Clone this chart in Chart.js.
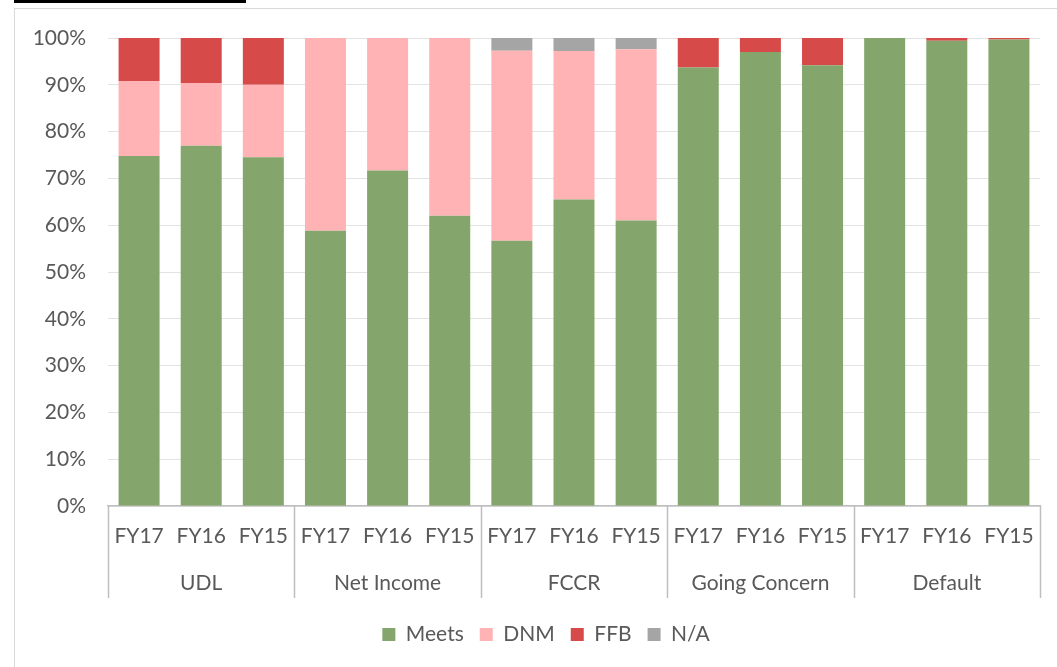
<!DOCTYPE html>
<html>
<head>
<meta charset="utf-8">
<script src="https://cdn.jsdelivr.net/npm/chart.js@4.4.1/dist/chart.umd.min.js"></script>
<style>
  html, body { margin: 0; padding: 0; background: #fff; overflow: hidden; }
  #frame { position: absolute; left: 14px; top: 8px; width: 1100px; height: 700px; border: 1px solid #d9d9d9; }
  #cut { position: absolute; left: 14px; top: 0; width: 232px; height: 3px; background: #000; }
  #wrap { position: absolute; left: 0; top: 0; width: 1057px; height: 667px; }
</style>
</head>
<body>
<div id="frame"></div>
<div id="cut"></div>
<div id="wrap"><canvas id="chart"></canvas></div>
<script>
// etiquetas y valores
const years = ['FY17', 'FY16', 'FY15', 'FY17', 'FY16', 'FY15', 'FY17', 'FY16', 'FY15',
               'FY17', 'FY16', 'FY15', 'FY17', 'FY16', 'FY15'];
const groups = ['UDL', 'Net Income', 'FCCR', 'Going Concern', 'Default'];
const meets = [74.8, 77.0, 74.5, 58.8, 71.7, 62.0, 56.7, 65.5, 61.0, 93.7, 97.0, 94.2, 100, 99.4, 99.7];
const dnm   = [16.0, 13.4, 15.5, 41.2, 28.3, 38.0, 40.6, 31.7, 36.6, 0, 0, 0, 0, 0, 0];
const ffb   = [9.2, 9.6, 10.0, 0, 0, 0, 0, 0, 0, 6.3, 3.0, 5.8, 0, 0.6, 0.3];
const na    = [0, 0, 0, 0, 0, 0, 2.7, 2.8, 2.4, 0, 0, 0, 0, 0, 0];
const yTicks = [0, 10, 20, 30, 40, 50, 60, 70, 80, 90, 100];

const textColor = '#595959';
const fontFamily = 'Lato, "Open Sans", sans-serif';
const fontSize = 21;

// lineas separadoras entre grupos (como en Excel)
const groupLines = {
  id: 'groupLines',
  afterLayout(chart) {
    // la leyenda de Excel queda un poco a la derecha
    chart.legend.left += 16;
    chart.legend.right += 16;
  },
  afterDraw(chart) {
    const x = chart.scales.x;
    const x2 = chart.scales.x2;
    const ctx = chart.ctx;
    const half = (x.getPixelForValue(1) - x.getPixelForValue(0)) / 2;
    ctx.save();
    ctx.strokeStyle = '#bfbfbf';
    ctx.lineWidth = 1.5;
    for (let g = 0; g <= groups.length; g++) {
      const px = Math.round(x.getPixelForValue(g * 3) - half) + 0.5;
      ctx.beginPath();
      ctx.moveTo(px, x.top);
      ctx.lineTo(px, x2.top + 38);
      ctx.stroke();
    }
    ctx.restore();
  }
};

function ds(label, data, color) {
  return {
    label: label,
    data: data,
    backgroundColor: color,
    borderWidth: 0,
    categoryPercentage: 1,
    barPercentage: 0.66
  };
}

new Chart(document.getElementById('chart'), {
  type: 'bar',
  data: {
    labels: years,
    datasets: [
      ds('Meets', meets, '#84a66d'),
      ds('DNM', dnm, '#ffb3b5'),
      ds('FFB', ffb, '#d64a4a'),
      ds('N/A', na, '#a5a5a5')
    ]
  },
  options: {
    responsive: true,
    maintainAspectRatio: false,
    animation: false,
    layout: { padding: { left: 20, right: 17, top: 38, bottom: 12 } },
    plugins: {
      tooltip: { enabled: false },
      legend: {
        position: 'bottom',
        labels: {
          color: textColor,
          font: { family: fontFamily, size: fontSize },
          boxWidth: 13,
          boxHeight: 13,
          padding: 16
        }
      }
    },
    scales: {
      x: {
        stacked: true,
        grid: { display: false },
        border: { color: '#bfbfbf', width: 1.5 },
        ticks: { color: textColor, font: { family: fontFamily, size: fontSize }, padding: 10, maxRotation: 0 },
        afterFit: s => { s.height = 54; }
      },
      x2: {
        type: 'category',
        position: 'bottom',
        labels: groups,
        offset: true,
        grid: { display: false },
        border: { display: false },
        ticks: { color: textColor, font: { family: fontFamily, size: fontSize }, padding: 3, maxRotation: 0 },
        afterFit: s => { s.height = 48; }
      },
      y: {
        stacked: true,
        min: 0,
        max: 100,
        afterBuildTicks: s => { s.ticks = yTicks.map(v => ({ value: v })); },
        grid: { color: '#e3e3e3', drawTicks: false },
        border: { display: false },
        ticks: {
          color: textColor,
          font: { family: fontFamily, size: fontSize },
          padding: 22,
          callback: v => v + '%'
        },
        afterFit: s => { s.width = 88; }
      }
    }
  },
  plugins: [groupLines]
});
</script>
</body>
</html>
